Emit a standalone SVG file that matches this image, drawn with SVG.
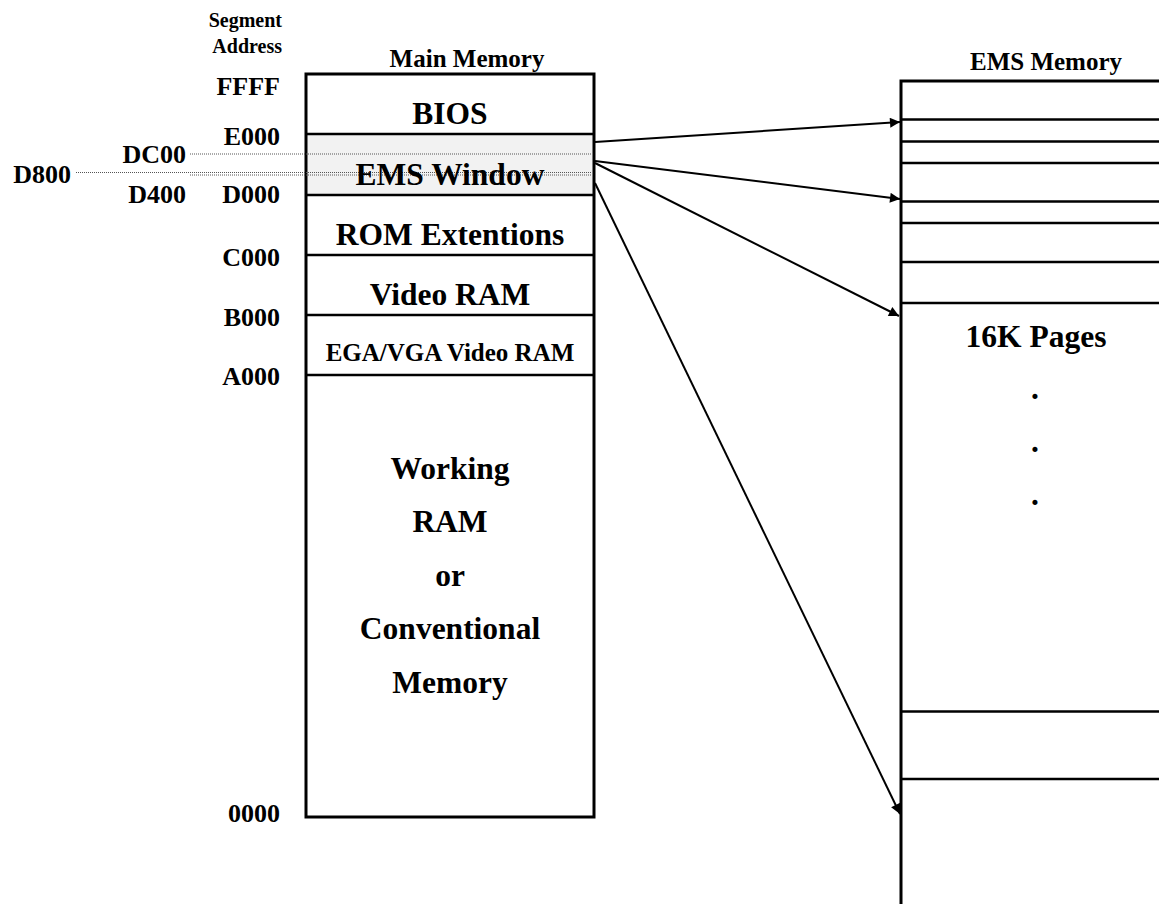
<svg xmlns="http://www.w3.org/2000/svg" width="1159" height="904" viewBox="0 0 1159 904">
  <style>
    text { font-family: "Liberation Serif", "Times New Roman", serif; font-weight: bold; fill: #000; }
    .big { font-size: 31.5px; text-anchor: middle; }
    .mid { font-size: 25px; text-anchor: middle; }
    .addr { font-size: 26px; text-anchor: end; }
    .small { font-size: 20px; text-anchor: end; }
    .box { fill: none; stroke: #000; stroke-width: 3; }
    .div { stroke: #000; stroke-width: 2.5; }
    .dot { stroke: #555; stroke-width: 1; stroke-dasharray: 1 1; fill: none; }
    .arrow { stroke: #000; stroke-width: 2; fill: none; marker-end: url(#head); }
  </style>
  <defs>
    <marker id="head" viewBox="0 0 10 10" refX="10" refY="5" markerWidth="6.5" markerHeight="5" markerUnits="strokeWidth" orient="auto">
      <path d="M0,0 L10,5 L0,10 Z" fill="#000"/>
    </marker>
  </defs>

  <rect width="1159" height="904" fill="#fff"/>

  <!-- address column -->
  <g id="addresses">
    <text class="small" x="282" y="27">Segment</text>
    <text class="small" x="282" y="53">Address</text>
    <text class="addr" x="280" y="95">FFFF</text>
    <text class="addr" x="280" y="145">E000</text>
    <text class="addr" x="186" y="163">DC00</text>
    <text class="addr" x="71" y="183">D800</text>
    <text class="addr" x="186" y="203">D400</text>
    <text class="addr" x="280" y="203">D000</text>
    <text class="addr" x="280" y="266">C000</text>
    <text class="addr" x="280" y="326">B000</text>
    <text class="addr" x="280" y="385">A000</text>
    <text class="addr" x="280" y="822">0000</text>
  </g>

  <!-- main memory map -->
  <g id="main-memory">
    <text class="mid" x="467" y="67">Main Memory</text>
    <rect x="306" y="134" width="288" height="61" fill="#f2f2f2"/>
    <rect class="box" x="306" y="74" width="288" height="743"/>
    <line class="div" x1="306" y1="134" x2="594" y2="134"/>
    <line class="div" x1="306" y1="195" x2="594" y2="195"/>
    <line class="div" x1="306" y1="255" x2="594" y2="255"/>
    <line class="div" x1="306" y1="315" x2="594" y2="315"/>
    <line class="div" x1="306" y1="375" x2="594" y2="375"/>
  </g>

  <g id="bios"><text class="big" x="450" y="124">BIOS</text></g>

  <!-- 16K sub-page markers inside the page frame -->
  <g id="sub-page-marks">
    <line class="dot" x1="190" y1="154" x2="592" y2="154"/>
    <line class="dot" x1="76" y1="172.5" x2="592" y2="172.5"/>
    <line class="dot" x1="190" y1="175" x2="592" y2="175"/>
  </g>

  <g id="ems-window"><text class="big" x="450" y="185">EMS Window</text></g>
  <g id="rom-ext"><text class="big" x="450" y="245">ROM Extentions</text></g>
  <g id="video-ram"><text class="big" x="450" y="305">Video RAM</text></g>
  <g id="ega-vga"><text class="mid" x="450" y="361">EGA/VGA Video RAM</text></g>
  <g id="working-ram">
    <text class="big" x="450" y="479">Working</text>
    <text class="big" x="450" y="532">RAM</text>
    <text class="big" x="450" y="586">or</text>
    <text class="big" x="450" y="639">Conventional</text>
    <text class="big" x="450" y="693">Memory</text>
  </g>

  <!-- expanded memory pages -->
  <g id="ems-memory">
    <text class="mid" x="1046" y="70">EMS Memory</text>
    <rect class="box" x="901" y="81" width="300" height="860"/>
    <line class="div" x1="901" y1="119.5" x2="1159" y2="119.5"/>
    <line class="div" x1="901" y1="141.5" x2="1159" y2="141.5"/>
    <line class="div" x1="901" y1="163" x2="1159" y2="163"/>
    <line class="div" x1="901" y1="201.5" x2="1159" y2="201.5"/>
    <line class="div" x1="901" y1="223" x2="1159" y2="223"/>
    <line class="div" x1="901" y1="262" x2="1159" y2="262"/>
    <line class="div" x1="901" y1="303" x2="1159" y2="303"/>
    <line class="div" x1="901" y1="711.5" x2="1159" y2="711.5"/>
    <line class="div" x1="901" y1="779" x2="1159" y2="779"/>
    <text class="big" x="1036" y="347">16K Pages</text>
    <text class="big" x="1035" y="399">.</text>
    <text class="big" x="1035" y="452">.</text>
    <text class="big" x="1035" y="505">.</text>
  </g>

  <!-- page mappings -->
  <g id="connectors">
    <line class="arrow" x1="595" y1="142" x2="900" y2="122"/>
    <line class="arrow" x1="595" y1="161" x2="900" y2="199"/>
    <line class="arrow" x1="595" y1="163" x2="899" y2="316"/>
    <line class="arrow" x1="595" y1="183" x2="900" y2="814"/>
  </g>
</svg>
